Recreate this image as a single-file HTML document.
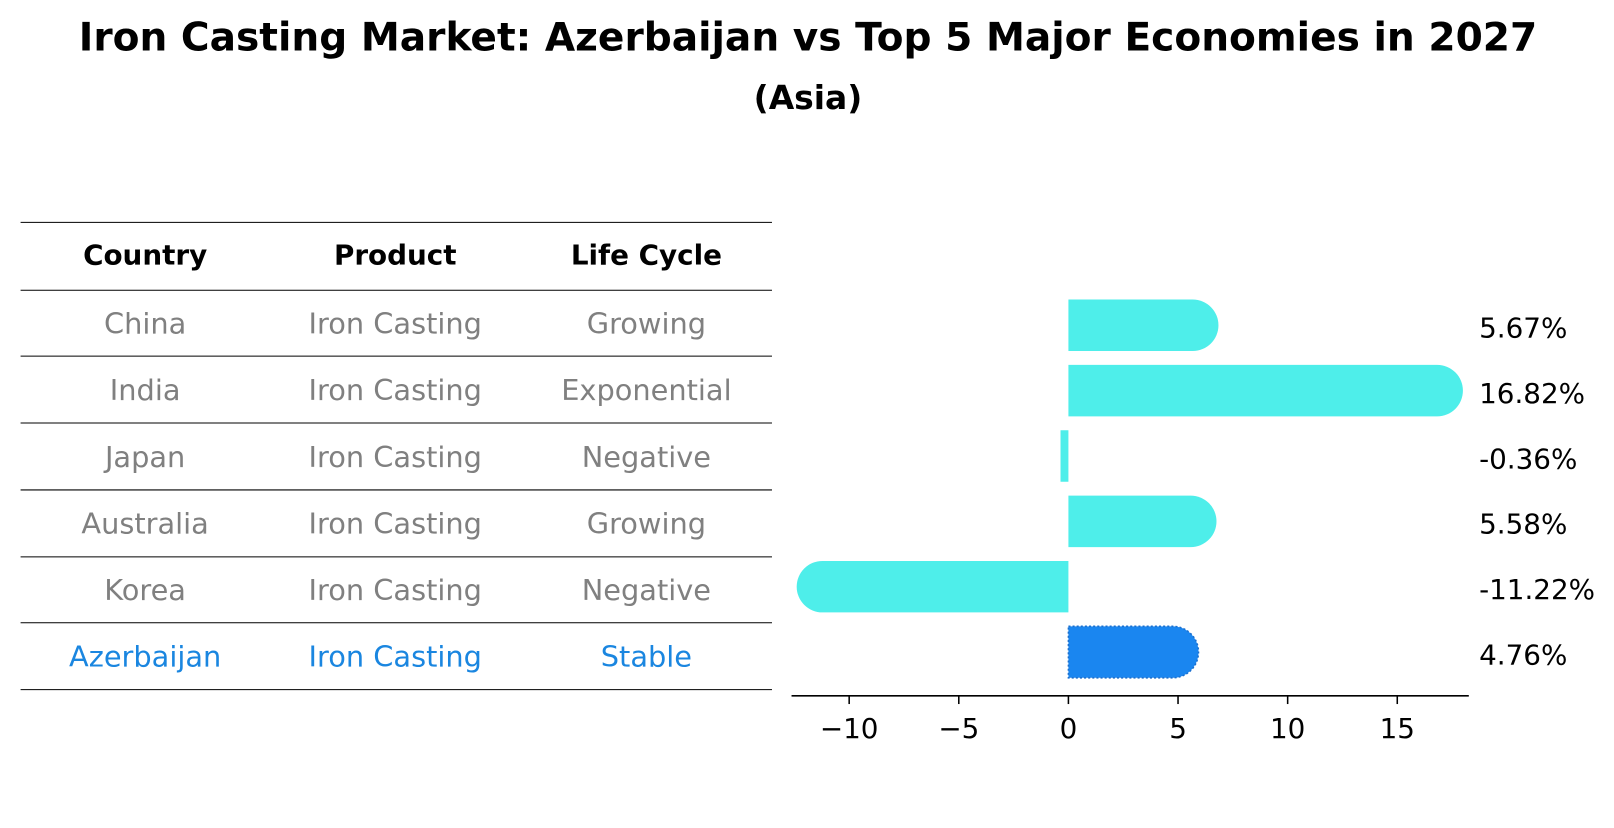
<!DOCTYPE html>
<html><head><meta charset="utf-8">
<style>
body{margin:0;background:#fff;font-family:"Liberation Sans","DejaVu Sans",sans-serif;}
svg text{font-family:"DejaVu Sans","Liberation Sans",sans-serif;}
</style></head>
<body>
<svg id="chart" width="1614" height="823" viewBox="0 0 1614 823" xmlns="http://www.w3.org/2000/svg">
<rect width="1614" height="823" fill="#fff"/>
<g transform="scale(1.0293)">
<text x="785" y="49" text-anchor="middle" font-size="38" font-weight="bold">Iron Casting Market: Azerbaijan vs Top 5 Major Economies in 2027</text>
<text x="785" y="106" text-anchor="middle" font-size="32" font-weight="bold">(Asia)</text>
<g id="table"></g>
<g id="bars"></g>
</g>
</svg>
<script>
const countries=["China","India","Japan","Australia","Korea","Azerbaijan"];
const products=["Iron Casting","Iron Casting","Iron Casting","Iron Casting","Iron Casting","Iron Casting"];
const lifeCycles=["Growing","Exponential","Negative","Growing","Negative","Stable"];
const values=[5.67,16.82,-0.36,5.58,-11.22,4.76];
const valueLabels=["5.67%","16.82%","-0.36%","5.58%","-11.22%","4.76%"];
const xTicks=[-10,-5,0,5,10,15];
const xTickLabels=["\u221210","\u22125","0","5","10","15"];
const NS="http://www.w3.org/2000/svg";
function mk(tag,attrs,parent){const e=document.createElementNS(NS,tag);for(const k in attrs)e.setAttribute(k,attrs[k]);parent.appendChild(e);return e;}
const tbl=document.getElementById('table');
const lineYs=[216,282,346,411,476,541,605,670];
lineYs.forEach((y,i)=>{const l=mk('line',{x1:20,x2:750,y1:y,y2:y,stroke:'#000','stroke-width':1},tbl);

});
const colX=[141,384,628];
["Country","Product","Life Cycle"].forEach((h,i)=>{const t=mk('text',{x:colX[i],y:257,'text-anchor':'middle','font-size':27,'font-weight':'bold'},tbl);t.textContent=h;

});
countries.forEach((c,r)=>{const y=(lineYs[r+1]+lineYs[r+2])/2+10;const col=r===countries.length-1?'#1a86e0':'#808080';
[c,products[r],lifeCycles[r]].forEach((v,i)=>{const t=mk('text',{x:colX[i],y:y,'text-anchor':'middle','font-size':28,fill:col},tbl);t.textContent=v;

});});
const bars=document.getElementById('bars');
const x0=1038,ppu=21.3;
const xs=v=>x0+v*ppu;
const yc=i=>316+i*63.5;
const bh=50,r=25;
values.forEach((v,i)=>{const c=i===values.length-1?'#1a86f0':'#4eeeea';
const xv=xs(v),top=yc(i)-bh/2,bot=yc(i)+bh/2;let d;
if(Math.abs(v)<1){d=`M${x0},${top}H${xv}V${bot}H${x0}Z`;}
else if(v>0){d=`M${x0},${top}H${xv}A${r},${r} 0 0 1 ${xv},${bot}H${x0}Z`;}
else{d=`M${x0},${top}H${xv}A${r},${r} 0 0 0 ${xv},${bot}H${x0}Z`;}
const p=mk('path',{d:d,fill:c},bars);
if(i===values.length-1){p.setAttribute('stroke','#1a70d0');p.setAttribute('stroke-dasharray','2,2');p.setAttribute('stroke-width','1.5');}


const t=mk('text',{x:1437,y:yc(i)+12,'font-size':27},bars);t.textContent=valueLabels[i];

});
const ax=mk('line',{x1:769,x2:1427,y1:676,y2:676,stroke:'#000','stroke-width':1.5},bars);


xTicks.forEach((v,i)=>{const tk=mk('line',{x1:xs(v),x2:xs(v),y1:676,y2:684,stroke:'#000','stroke-width':1.5},bars);


const t=mk('text',{x:xs(v),y:717,'text-anchor':'middle','font-size':27},bars);t.textContent=xTickLabels[i];

});
</script>
</body></html>
